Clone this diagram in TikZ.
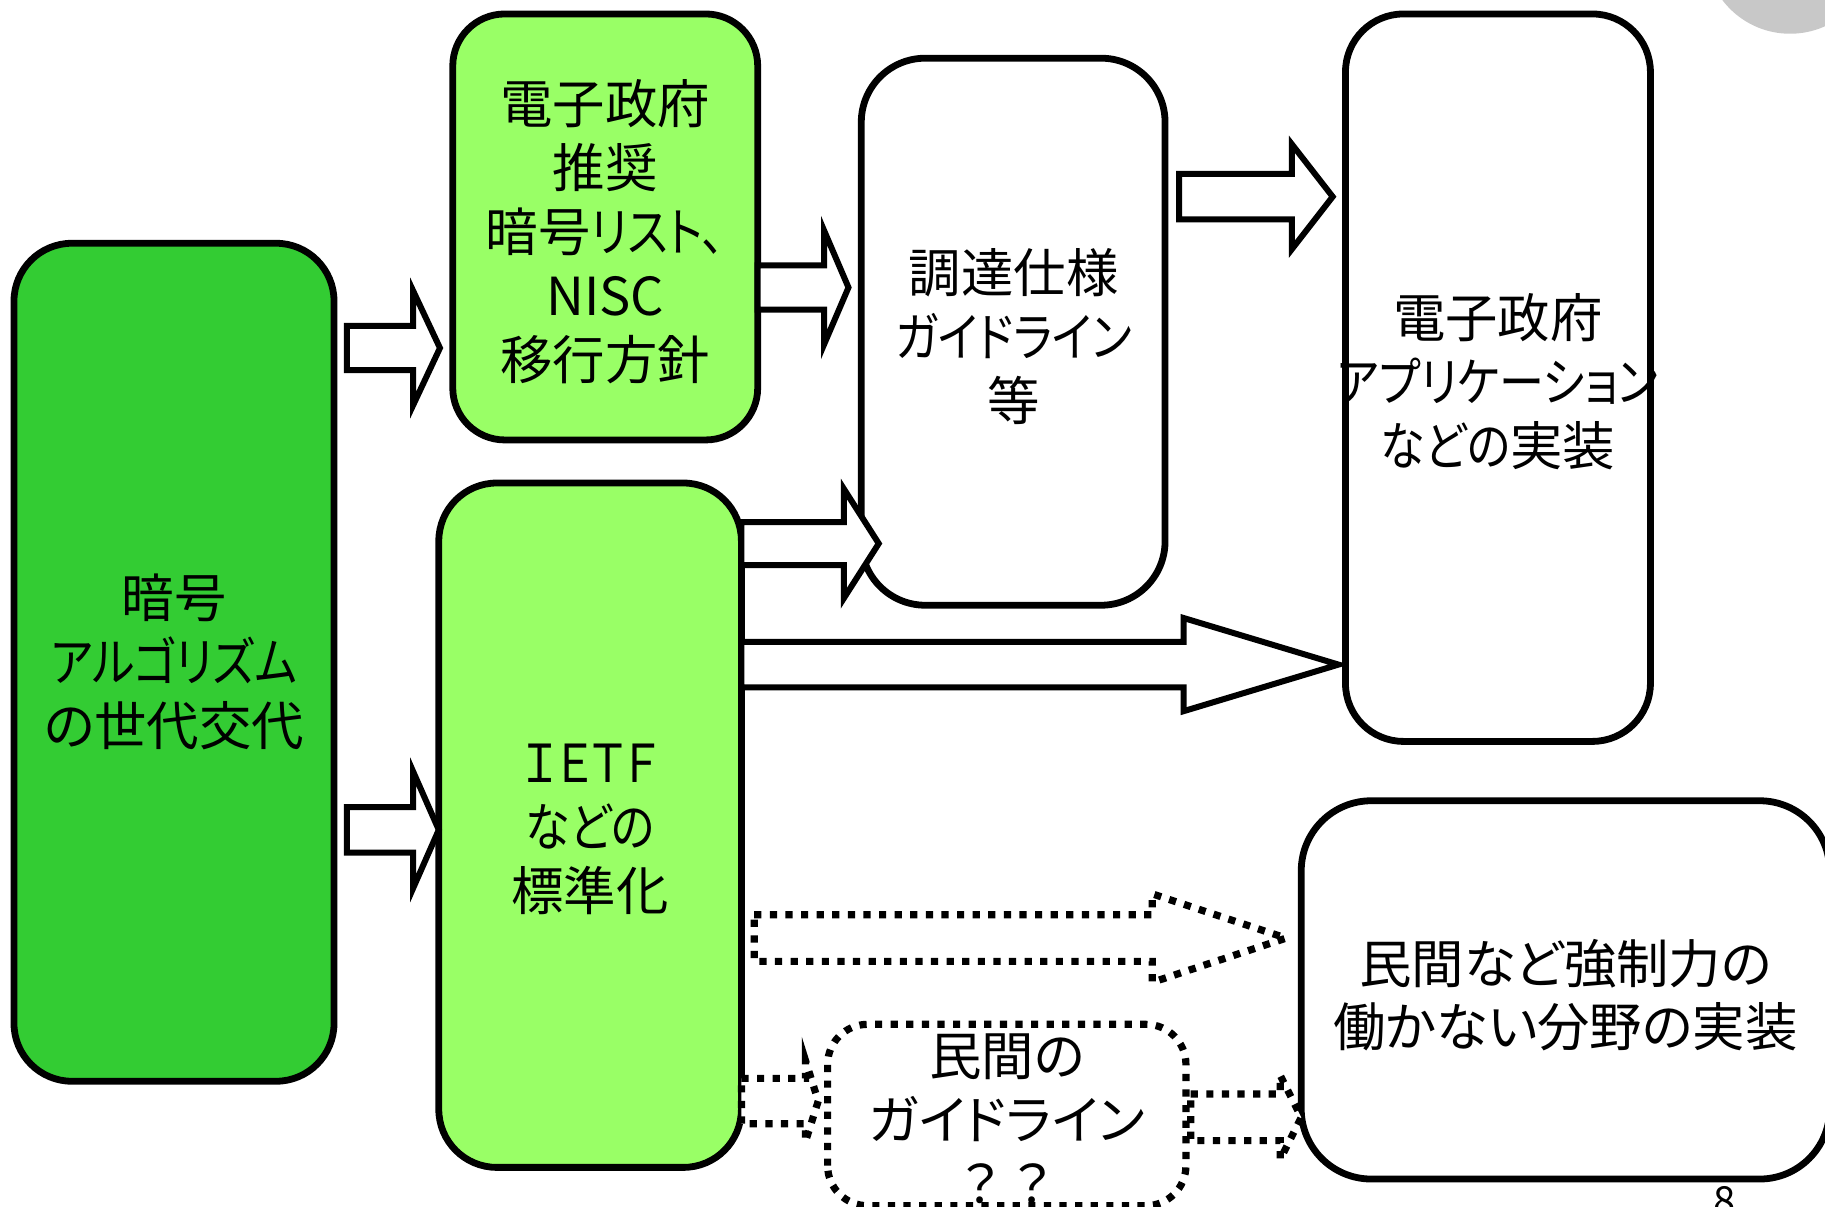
\documentclass[tikz,border=0pt]{standalone}
\usepackage{fontspec}
\setmainfont{Noto Sans CJK JP}[RawFeature={+palt}]
\newfontfamily\cjkfw{Noto Sans CJK JP}
\newfontfamily\kanaf{Noto Sans CJK JP}[RawFeature={+palt}, FakeStretch=0.86]
\newcommand\kn[1]{{\kanaf #1}}
\definecolor{dkgreen}{HTML}{33CC33}
\definecolor{ltgreen}{HTML}{99FF66}
\definecolor{circgray}{HTML}{C8C8C8}
\newcommand\jpfont{\fontsize{26.2pt}{32pt}\selectfont}
\newcommand\blockarrow[7]{%
  \draw[#1] (#2,#4-#5) -- (#3-#7,#4-#5) -- (#3-#7,#4-#6) -- (#3,#4)
    -- (#3-#7,#4+#6) -- (#3-#7,#4+#5) -- (#2,#4+#5) -- cycle;}
\begin{document}
\begin{tikzpicture}[x=0.58195pt,y=-0.58195pt,
  box/.style={draw=black, line width=3.4pt, rounded corners=#1, align=center,
    font=\jpfont, inner sep=0pt, text=black},
  sz/.style 2 args={minimum width=#1*0.58195pt, minimum height=#2*0.58195pt},
  txt/.style={align=center, font=\jpfont, inner sep=0pt, text=black},
  solidarrow/.style={draw=black, fill=white, line width=3pt, line join=miter, miter limit=20},
  dotarrow/.style={draw=black, fill=white, line width=3.6pt, dash pattern=on 3.6pt off 4.2pt},
  dotbox/.style={draw=black, line width=3.6pt, dash pattern=on 3.6pt off 4.2pt, rounded corners=20pt}]
\useasboundingbox (0,0) rectangle (1568,1037);
\fill[circgray] (1538,-44) circle[radius=73*0.58195pt];

% boxes
\node[box=29pt, sz={275}{720}, fill=dkgreen] (A) at (149.5,569)
  {暗号\\\kn{アルゴリズム}\\の世代交代};
\node[box=26pt, sz={262}{366}, fill=ltgreen] (B) at (520,195) {};
\node[txt] (Bt) at (520,199)
  {電子政府\\推奨\\暗号\kn{リスト、}\\NISC\\移行方針};
\node[box=29pt, sz={260}{588}, fill=ltgreen] (C) at (507,709) {};
\node[txt] (Ct) at (507,713) {\kn{ＩＥＴＦ}\\\kn{などの}\\標準化};
\node[box=32pt, sz={261}{470}, fill=white] (D) at (870.5,285) {};
\node[txt] (Dt) at (871,289) {調達仕様\\\kn{ガイドライン}\\等};
\node[box=29pt, sz={262}{625}, fill=white] (E) at (1287,324.5) {};
\node[txt] (Et) at (1287,328) {電子政府\\\kn{アプリケーション}\\\kn{などの}実装};
\node[box=35pt, sz={454}{325}, fill=white] (F) at (1345,850.5) {};
\node[txt] (Ft) at (1345,855) {民間など強制力の\\働かない分野の実装};
\node[box=20pt, sz={302}{150}, draw=none] (G) at (865,958) {};
\node[txt] (Gt) at (865,961) {民間の\\ガイドライン\\{\cjkfw ？？}};
\draw[dotbox] (G.south west) rectangle (G.north east);

% solid block arrows
\blockarrow{solidarrow}{298}{378}{299}{19}{49}{23}
\blockarrow{solidarrow}{298}{377}{713}{19.5}{50}{22}
\blockarrow{solidarrow}{651}{729}{247}{19}{49}{21}
\blockarrow{solidarrow}{637}{755}{467}{18.5}{47}{30}
\blockarrow{solidarrow}{1013}{1145}{169}{19.5}{45}{35}
\blockarrow{solidarrow}{637}{1150}{571}{19.5}{40}{133}

% dotted block arrows
\blockarrow{dotarrow}{648}{1105}{806}{20}{38}{115}
\blockarrow{dotarrow}{637}{703}{946}{19.5}{35}{11}
\blockarrow{dotarrow}{1023}{1118}{960}{20}{36}{18}

% page number (cut off at the bottom)
\node[anchor=north, inner sep=0pt, font=\fontsize{20pt}{20pt}\selectfont] (pg) at (1482,1019) {8};
\end{tikzpicture}
\end{document}
